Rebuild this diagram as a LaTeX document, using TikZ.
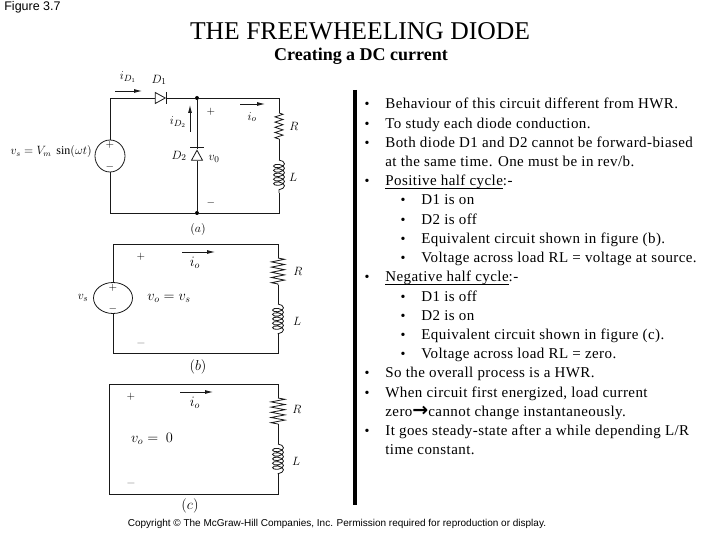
\documentclass[tikz,border=0pt]{standalone}
\usepackage{amsmath}
\usepackage{fontspec}
\setmainfont{Liberation Serif}
\newfontfamily\arialfont{Liberation Sans}
\newfontfamily\arrowfont{DejaVu Sans}
\newfontfamily\bodyfont[LetterSpace=2.8]{Liberation Serif}
\usetikzlibrary{decorations.pathmorphing,shapes.geometric,arrows.meta}

\begin{document}
\begin{tikzpicture}[x=1pt, y=-1pt, line width=0.8pt,
  wire/.style = {draw=black!90},
  res/.style = {wire, decorate, decoration={zigzag, segment length=5.2pt, amplitude=#1}},
  ind/.style = {wire, decorate, decoration={coil, segment length=4.4pt, amplitude=5.5pt, aspect=0.5}},
  src/.style = {ellipse, draw=black!90, inner sep=0pt},
  diode/.style = {isosceles triangle, isosceles triangle stretches, draw=black!90, inner sep=0pt,
                  minimum width=11pt, minimum height=10pt},
  dot/.style = {circle, fill=black, inner sep=0pt, minimum size=4pt},
  flow/.style = {-{Latex[length=8pt, width=4pt]}, draw=black!90},
  lbl/.style = {inner sep=0pt, font=\fontsize{10.5}{12}\selectfont},
  big/.style = {inner sep=0pt, font=\fontsize{13}{15}\selectfont},
  huge/.style = {inner sep=0pt, font=\fontsize{14.5}{16}\selectfont},
  line/.style = {anchor=base west, inner sep=0pt, font=\bodyfont\fontsize{15}{17}\selectfont},
  blt/.style = {anchor=base, inner sep=0pt, font=\fontsize{14}{16}\selectfont},
  ]
  \useasboundingbox (0,0) rectangle (720,540);

  \node[inner sep=0pt, font=\arialfont\fontsize{12.5}{14}\selectfont] (fig) at (32.5,7) {Figure 3.7};
  \node[inner sep=0pt, font=\fontsize{25.6}{28}\selectfont] (title) at (360,31) {THE FREEWHEELING DIODE};
  \node[inner sep=0pt, font=\bfseries\fontsize{18}{20}\selectfont] (sub) at (361,56.5) {Creating a DC current};
  \node[inner sep=0pt, font=\arialfont\fontsize{10}{12}\selectfont] (copy) at (337,524)
    {Copyright © The McGraw-Hill Companies, Inc. Permission required for reproduction or display.};

  % circuit a
  \coordinate (atl) at (110,98);
  \coordinate (atr) at (279,98);
  \coordinate (abl) at (110,213);
  \coordinate (abr) at (279,213);
  \coordinate (aRt) at (279,113);
  \coordinate (aRb) at (279,139);
  \coordinate (aLt) at (279,160);
  \coordinate (aLb) at (279,193);
  \node[src, minimum width=30pt, minimum height=32pt] (asrc) at (110,156) {};
  \node[diode] (D1) at (158.5,98) {};
  \node[diode, shape border rotate=90] (D2) at (197,157) {};
  \node[dot] (ja) at (197,98) {};
  \node[dot] (jb) at (197,213) {};
  \draw[wire] (asrc.north) -- (atl) -- (D1.lower side);
  \draw[wire] (D1.apex) -- (ja) -- (atr) -- (aRt);
  \draw[res=4pt] (aRt) -- (aRb);
  \draw[wire] (aRb) -- (aLt);
  \draw[ind] (aLt) -- (aLb);
  \draw[wire] (aLb) -- (abr) -- (jb) -- (abl) -- (asrc.south);
  \draw[wire] (ja) -- (D2.apex);
  \draw[wire] (D2.lower side) -- (jb);
  \draw[wire] (D1.apex) ++(0,-6) -- ++(0,12);
  \draw[wire] ([yshift=1.5pt]D2.apex) ++(-7,0) -- ++(14,0);
  \node[lbl] (aplus) at (110,145) {$+$};
  \node[lbl] (aminus) at (110,167) {$-$};
  \node[inner sep=0pt, anchor=east, font=\fontsize{12}{14}\selectfont] (avs) at (92,152) {$v_s = V_m\ \sin(\omega t)$};
  \node[big] (aiD1) at (128,77) {$i_{D_1}$};
  \node[big] (aD1) at (159,80) {$D_1$};
  \node[big] (aiD2) at (178,122) {$i_{D_2}$};
  \node[big] (aD2) at (179,156) {$D_2$};
  \node[big] (avo) at (214,159) {$v_0$};
  \node[big] (aio) at (252,117) {$i_o$};
  \node[big] (aR) at (294,126) {$R$};
  \node[big] (aL) at (293,177) {$L$};
  \node[lbl] (ap) at (211,112) {$+$};
  \node[lbl] (am) at (211,203) {$-$};
  \node[big] (acap) at (198,230) {$(a)$};
  \coordinate (af1) at (115,91);
  \coordinate (af2) at (142,91);
  \coordinate (af3) at (190,132);
  \coordinate (af4) at (190,105);
  \coordinate (af5) at (240,104);
  \coordinate (af6) at (265,104);
  \draw[flow] (af1) -- (af2);
  \draw[flow] (af3) -- (af4);
  \draw[flow] (af5) -- (af6);

  % circuit b
  \coordinate (btl) at (113,244);
  \coordinate (btr) at (278,244);
  \coordinate (bbl) at (113,353);
  \coordinate (bbr) at (278,353);
  \coordinate (bRt) at (278,258);
  \coordinate (bRb) at (278,285);
  \coordinate (bLt) at (278,304);
  \coordinate (bLb) at (278,334);
  \node[src, minimum width=39pt, minimum height=31pt] (bsrc) at (113,298) {};
  \draw[wire] (bsrc.north) -- (btl) -- (btr) -- (bRt);
  \draw[res=6.5pt] (bRt) -- (bRb);
  \draw[wire] (bRb) -- (bLt);
  \draw[ind] (bLt) -- (bLb);
  \draw[wire] (bLb) -- (bbr) -- (bbl) -- (bsrc.south);
  \node[lbl] (bplus) at (113,288) {$+$};
  \node[lbl] (bminus) at (113,309) {$-$};
  \node[big] (bvs) at (83,298) {$v_s$};
  \node[huge] (bvo) at (169,298) {$v_o = v_s$};
  \node[huge] (bio) at (195,263) {$i_o$};
  \node[big] (bR) at (298,271) {$R$};
  \node[big] (bL) at (297,321) {$L$};
  \node[lbl] (bp) at (141,257) {$+$};
  \node[big, black!55] (bm) at (141,343) {$-$};
  \node[huge] (bcap) at (198,367) {$(b)$};
  \coordinate (bf1) at (182,252);
  \coordinate (bf2) at (215,252);
  \draw[flow] (bf1) -- (bf2);

  % circuit c
  \coordinate (ctl) at (109,384);
  \coordinate (ctr) at (278,384);
  \coordinate (cbl) at (109,494);
  \coordinate (cbr) at (278,494);
  \coordinate (cRt) at (278,398);
  \coordinate (cRb) at (278,424);
  \coordinate (cLt) at (278,444);
  \coordinate (cLb) at (278,474);
  \draw[wire] (cRt) -- (ctr) -- (ctl) -- (cbl) -- (cbr) -- (cLb);
  \draw[res=7pt] (cRt) -- (cRb);
  \draw[wire] (cRb) -- (cLt);
  \draw[ind] (cLt) -- (cLb);
  \node[huge] (cvo) at (152,439) {$v_o =\ 0$};
  \node[huge] (cio) at (195,403) {$i_o$};
  \node[big] (cR) at (297,409) {$R$};
  \node[big] (cL) at (296,461) {$L$};
  \node[lbl] (cp) at (131,397) {$+$};
  \node[big, black!55] (cm) at (131,483) {$-$};
  \node[huge] (ccap) at (190,506) {$(c)$};
  \coordinate (cf1) at (180,392);
  \coordinate (cf2) at (213,392);
  \draw[flow] (cf1) -- (cf2);

  % divider
  \coordinate (bar1) at (355,90);
  \coordinate (bar2) at (355,505);
  \draw[line width=4pt] (bar1) -- (bar2);

  % text
  \foreach \r/\xp/\tx in {
    1/385/{Behaviour of this circuit different from HWR.},
    2/385/{To study each diode conduction.},
    3/385/{Both diode D1 and D2 cannot be forward-biased},
    4/385/{at the same time. One must be in rev/b.},
    5/385/{\underline{\smash{Positive half cycle}}:-},
    6/421/{D1 is on},
    7/421/{D2 is off},
    8/421/{Equivalent circuit shown in figure (b).},
    9/421/{Voltage across load RL = voltage at source.},
    10/385/{\underline{\smash{Negative half cycle}}:-},
    11/421/{D1 is off},
    12/421/{D2 is on},
    13/421/{Equivalent circuit shown in figure (c).},
    14/421/{Voltage across load RL = zero.},
    15/385/{So the overall process is a HWR.},
    16/385/{When circuit first energized, load current},
    17/385/{zero{\arrowfont\bfseries\fontsize{19}{17}\selectfont →}cannot change instantaneously.},
    18/385/{It goes steady-state after a while depending L/R},
    19/385/{time constant.}}
    \node[line] (row\r) at (\xp,{109+19.2*(\r-1)}) {\tx};

  \foreach \r/\xb in {1/367,2/367,3/367,5/367,6/403,7/403,8/403,9/403,10/367,
                      11/403,12/403,13/403,14/403,15/367,16/367,18/367}
    \node[blt] (blt\r) at (\xb,{109+19.2*(\r-1)}) {•};
\end{tikzpicture}
\end{document}
